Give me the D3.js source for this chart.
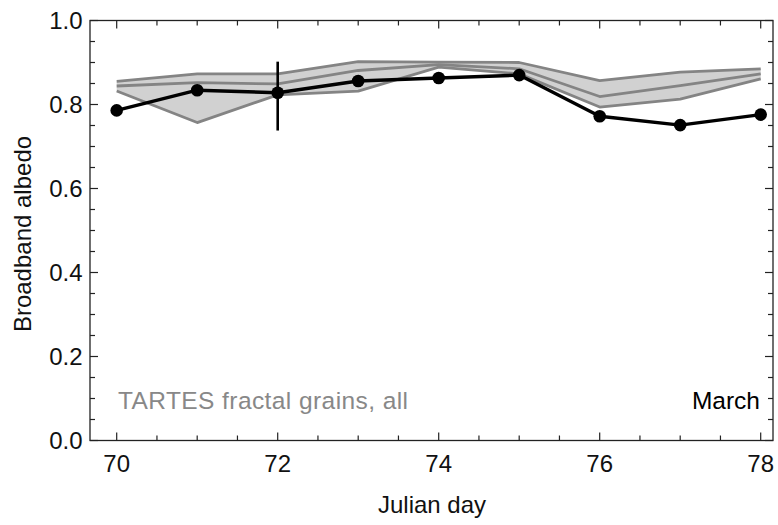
<!DOCTYPE html>
<html>
<head>
<meta charset="utf-8">
<script src="https://cdn.jsdelivr.net/npm/d3@7"></script>
<style>
  html, body { margin: 0; padding: 0; background: #fff; }
  svg { display: block; }
  text { font-family: "Liberation Sans", Arial, sans-serif; }
</style>
</head>
<body>
<svg id="chart" width="778" height="525"></svg>
<script>
// Julian days (March)
const days = [70, 71, 72, 73, 74, 75, 76, 77, 78];
// Measured broadband albedo
const measured = [0.786, 0.834, 0.828, 0.856, 0.863, 0.870, 0.772, 0.751, 0.776];
// Uncertainty of the measurement shown on day 72
const errDay = 72;
const errLow = 0.738;
const errHigh = 0.902;
// TARTES fractal grains: upper, central and lower estimates
const tartesUpper = [0.855, 0.873, 0.873, 0.902, 0.901, 0.900, 0.857, 0.877, 0.885];
const tartesMid   = [0.844, 0.852, 0.849, 0.881, 0.895, 0.885, 0.819, 0.845, 0.873];
const tartesLower = [0.832, 0.757, 0.823, 0.832, 0.889, 0.873, 0.794, 0.813, 0.861];
// Axis ticks
const xTicks = [70, 72, 74, 76, 78];
const yTicks = [0.0, 0.2, 0.4, 0.6, 0.8, 1.0];

const svg = d3.select("#chart");
const frame = { left: 90, right: 773, top: 20.5, bottom: 440.5 };

const x = d3.scaleLinear().domain([70, 78]).range([116.7, 760.7]);
const y = d3.scaleLinear().domain([0, 1]).range([frame.bottom, frame.top]);

const plot = svg.append("g");

// Shaded band between lower and upper model estimates
const band = days.map((d, i) => ({ d, lo: tartesLower[i], hi: tartesUpper[i] }));
plot.append("path")
  .datum(band)
  .attr("fill", "#d1d1d1")
  .attr("stroke", "none")
  .attr("d", d3.area().x(p => x(p.d)).y0(p => y(p.lo)).y1(p => y(p.hi)));

const lineGen = d3.line().x(p => x(p[0])).y(p => y(p[1]));
[tartesUpper, tartesMid, tartesLower].forEach(series => {
  plot.append("path")
    .datum(days.map((d, i) => [d, series[i]]))
    .attr("fill", "none")
    .attr("stroke", "#848484")
    .attr("stroke-width", 2.8)
    .attr("stroke-linejoin", "round")
    .attr("d", lineGen);
});

// Measurement error bar
plot.append("line")
  .attr("x1", x(errDay)).attr("x2", x(errDay))
  .attr("y1", y(errLow)).attr("y2", y(errHigh))
  .attr("stroke", "#000").attr("stroke-width", 2.6);

// Measured series
plot.append("path")
  .datum(days.map((d, i) => [d, measured[i]]))
  .attr("fill", "none")
  .attr("stroke", "#000")
  .attr("stroke-width", 3.4)
  .attr("stroke-linejoin", "round")
  .attr("d", lineGen);

plot.selectAll("circle.pt")
  .data(days.map((d, i) => [d, measured[i]]))
  .join("circle")
  .attr("class", "pt")
  .attr("cx", p => x(p[0]))
  .attr("cy", p => y(p[1]))
  .attr("r", 6.3)
  .attr("fill", "#000");

// Frame with inward ticks on all four sides
const axisColor = "#222";
svg.append("rect")
  .attr("x", frame.left).attr("y", frame.top)
  .attr("width", frame.right - frame.left)
  .attr("height", frame.bottom - frame.top)
  .attr("fill", "none").attr("stroke", axisColor).attr("stroke-width", 1.3);

const ticksG = svg.append("g").attr("stroke", axisColor).attr("stroke-width", 1.2);
const xMinor = d3.range(70, 78.01, 0.5);
xMinor.forEach(v => {
  const major = Math.abs(v - Math.round(v / 2) * 2) < 1e-6;
  const len = major ? 8 : 5;
  ticksG.append("line").attr("x1", x(v)).attr("x2", x(v))
    .attr("y1", frame.bottom).attr("y2", frame.bottom - len);
  ticksG.append("line").attr("x1", x(v)).attr("x2", x(v))
    .attr("y1", frame.top).attr("y2", frame.top + len);
});
const yMinor = d3.range(0, 1.001, 0.05);
yMinor.forEach(v => {
  const major = Math.abs(v * 5 - Math.round(v * 5)) < 1e-6;
  const len = major ? 8 : 5;
  ticksG.append("line").attr("y1", y(v)).attr("y2", y(v))
    .attr("x1", frame.left).attr("x2", frame.left + len);
  ticksG.append("line").attr("y1", y(v)).attr("y2", y(v))
    .attr("x1", frame.right).attr("x2", frame.right - len);
});

// Tick labels
const fs = 24;
svg.append("g").selectAll("text")
  .data(xTicks).join("text")
  .attr("x", d => x(d)).attr("y", 472)
  .attr("text-anchor", "middle")
  .attr("font-size", fs).attr("fill", "#111")
  .text(d => d);

svg.append("g").selectAll("text")
  .data(yTicks).join("text")
  .attr("x", 82.5).attr("y", d => y(d) + 8.3)
  .attr("text-anchor", "end")
  .attr("font-size", fs).attr("fill", "#111")
  .text(d => d.toFixed(1));

// Axis titles
svg.append("text")
  .attr("x", 432).attr("y", 513)
  .attr("text-anchor", "middle")
  .attr("font-size", fs).attr("fill", "#111")
  .text("Julian day");

svg.append("text")
  .attr("transform", "translate(31,234) rotate(-90)")
  .attr("text-anchor", "middle")
  .attr("font-size", fs).attr("fill", "#111")
  .text("Broadband albedo");

// In-plot labels
svg.append("text")
  .attr("x", 118).attr("y", 409)
  .attr("font-size", 24.5).attr("fill", "#888")
  .attr("textLength", 290).attr("lengthAdjust", "spacing")
  .text("TARTES fractal grains, all");

svg.append("text")
  .attr("x", 760).attr("y", 409)
  .attr("text-anchor", "end")
  .attr("font-size", 24.5).attr("fill", "#000")
  .text("March");
</script>
</body>
</html>
